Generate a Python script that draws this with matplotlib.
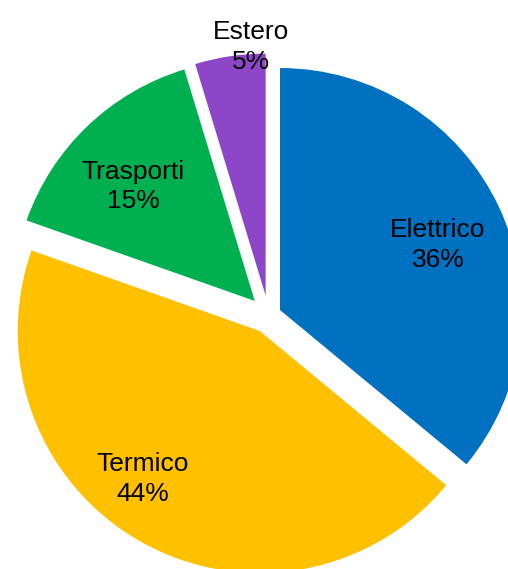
import numpy as np
import matplotlib.pyplot as plt

plt.rcParams['font.family'] = ['Liberation Sans', 'DejaVu Sans']

# data
names = ['Elettrico', 'Termico', 'Trasporti', 'Estero']
values = [36.0, 44.4, 14.9, 4.7]
colors = ['#0070C0', '#FFC000', '#00B050', '#8E46C8']

# layout (pixel units, axes spans the whole figure)
W, H = 508, 569
center = (268.6, H - 315.4)
radius = 242
explode = [12.6, 17.9, 20, 20]
# label distance (fraction of radius) and angle tweak (deg) per slice
lab_dist = [0.706, 0.78, 0.69, 1.03]
lab_dang = [-2.8, -8.9, 3.0, -5.0]

fig = plt.figure(figsize=(W / 100, H / 100), dpi=100)
ax = fig.add_axes([0, 0, 1, 1])

wedges, _ = ax.pie(values, colors=colors, explode=explode, center=center,
                   radius=radius, startangle=90, counterclock=False,
                   wedgeprops=dict(linewidth=0), frame=True)
ax.set_xlim(0, W)
ax.set_ylim(0, H)
ax.set_aspect('equal')
ax.axis('off')

for w, name, v, d, da in zip(wedges, names, values, lab_dist, lab_dang):
    mid = np.deg2rad((w.theta1 + w.theta2) / 2 + da)
    cx, cy = w.center
    ax.text(cx + d * radius * np.cos(mid), cy + d * radius * np.sin(mid),
            f'{name}\n{round(v)}%', ha='center', va='center',
            fontsize=19, color='black', linespacing=1.3)

fig.savefig('out.png', dpi=100)
